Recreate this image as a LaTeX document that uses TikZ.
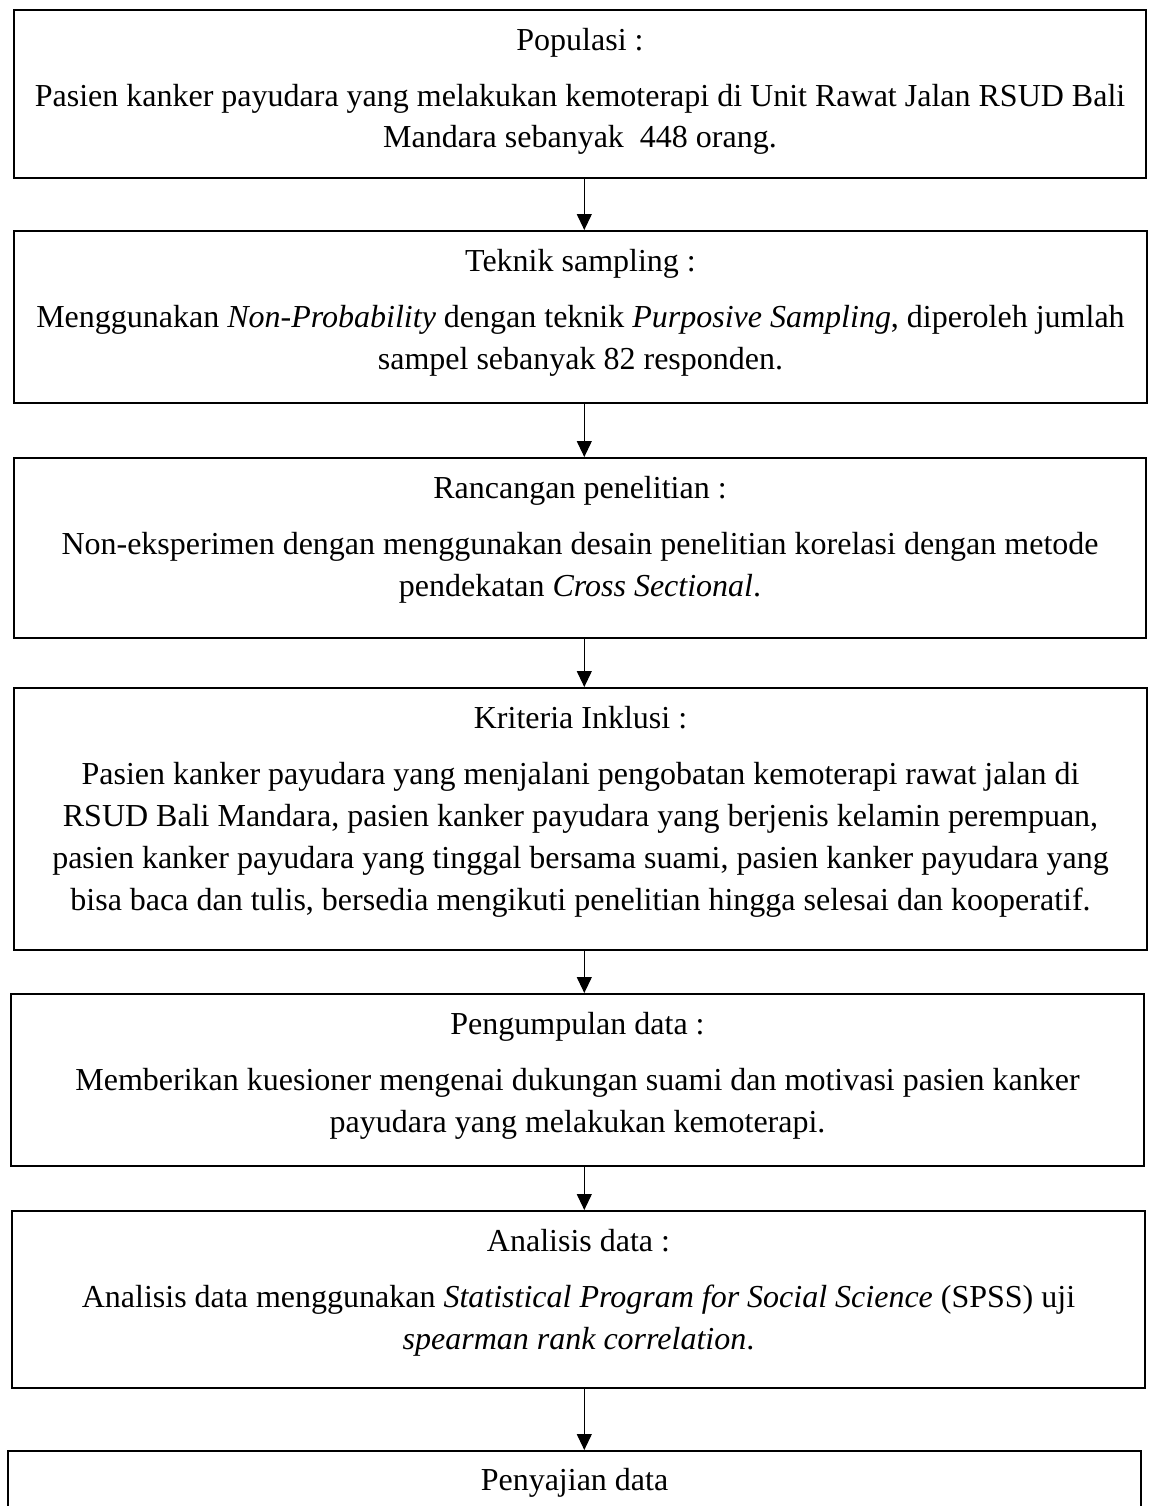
\documentclass[tikz,border=0pt]{standalone}
\usepackage{fontspec}
\setmainfont{Liberation Serif}
\usetikzlibrary{arrows.meta}
\begin{document}
\begin{tikzpicture}[x=0.4pt,y=-0.4pt,
  stepbox/.style={draw=black,line width=0.8pt,rectangle,inner sep=0pt,minimum width=453pt},
  txt/.style={anchor=base,inner sep=0pt,font=\fontsize{12.8pt}{16.8pt}\selectfont},
  arr/.style={line width=0.45pt,-{Triangle[length=6.4pt,width=6pt]}}]
\clip (0,0) rectangle (1148,1506);
\fill[white] (0,0) rectangle (1148,1506);
\coordinate (ax) at (584.3,0);
% boxes
\node[stepbox,minimum width=452.8pt,minimum height=67.2pt] (b1) at (580,94) {};
\node[stepbox,minimum width=453.2pt,minimum height=68.8pt] (b2) at (580.5,317) {};
\node[stepbox,minimum width=452.8pt,minimum height=72pt] (b3) at (580,548) {};
\node[stepbox,minimum width=453.2pt,minimum height=104.8pt] (b4) at (580.5,819) {};
\node[stepbox,minimum width=453.2pt,minimum height=68.8pt] (b5) at (577.5,1080) {};
\node[stepbox,minimum width=453.2pt,minimum height=70.8pt] (b6) at (578.5,1299.5) {};
\node[stepbox,minimum width=453.2pt,minimum height=43.6pt] (b7) at (574.5,1505.5) {};
% texts box 1
\node[txt] (t1) at (580,50) {Populasi :};
\node[txt] (t1a) at (580,106) {Pasien kanker payudara yang melakukan kemoterapi di Unit Rawat Jalan RSUD Bali};
\node[txt] (t1b) at (580,147) {Mandara sebanyak \ 448 orang.};
% box 2
\node[txt] (t2) at (580.5,271) {Teknik sampling :};
\node[txt] (t2a) at (580.5,327) {Menggunakan \textit{Non-Probability} dengan teknik \textit{Purposive Sampling}, diperoleh jumlah};
\node[txt] (t2b) at (580.5,369) {sampel sebanyak 82 responden.};
% box 3
\node[txt] (t3) at (580,498) {Rancangan penelitian :};
\node[txt] (t3a) at (580,554) {Non-eksperimen dengan menggunakan desain penelitian korelasi dengan metode};
\node[txt] (t3b) at (580,596) {pendekatan \textit{Cross Sectional}.};
% box 4
\node[txt] (t4) at (580.5,728) {Kriteria Inklusi :};
\node[txt] (t4a) at (580.5,784) {Pasien kanker payudara yang menjalani pengobatan kemoterapi rawat jalan di};
\node[txt] (t4b) at (580.5,826) {RSUD Bali Mandara, pasien kanker payudara yang berjenis kelamin perempuan,};
\node[txt] (t4c) at (580.5,868) {pasien kanker payudara yang tinggal bersama suami, pasien kanker payudara yang};
\node[txt] (t4d) at (580.5,910) {bisa baca dan tulis, bersedia mengikuti penelitian hingga selesai dan kooperatif.};
% box 5
\node[txt] (t5) at (577.5,1034) {Pengumpulan data :};
\node[txt] (t5a) at (577.5,1090) {Memberikan kuesioner mengenai dukungan suami dan motivasi pasien kanker};
\node[txt] (t5b) at (577.5,1132) {payudara yang melakukan kemoterapi.};
% box 6
\node[txt] (t6) at (578.5,1251) {Analisis data :};
\node[txt] (t6a) at (578.5,1307) {Analisis data menggunakan \textit{Statistical Program for Social Science} (SPSS) uji};
\node[txt] (t6b) at (578.5,1349) {\textit{spearman rank correlation}.};
% box 7
\node[txt] (t7) at (574.5,1490) {Penyajian data};
% arrows
\draw[arr] (b1.south -| ax) -- (b2.north -| ax);
\draw[arr] (b2.south -| ax) -- (b3.north -| ax);
\draw[arr] (b3.south -| ax) -- (b4.north -| ax);
\draw[arr] (b4.south -| ax) -- (b5.north -| ax);
\draw[arr] (b5.south -| ax) -- (b6.north -| ax);
\draw[arr] (b6.south -| ax) -- (b7.north -| ax);
\end{tikzpicture}
\end{document}
